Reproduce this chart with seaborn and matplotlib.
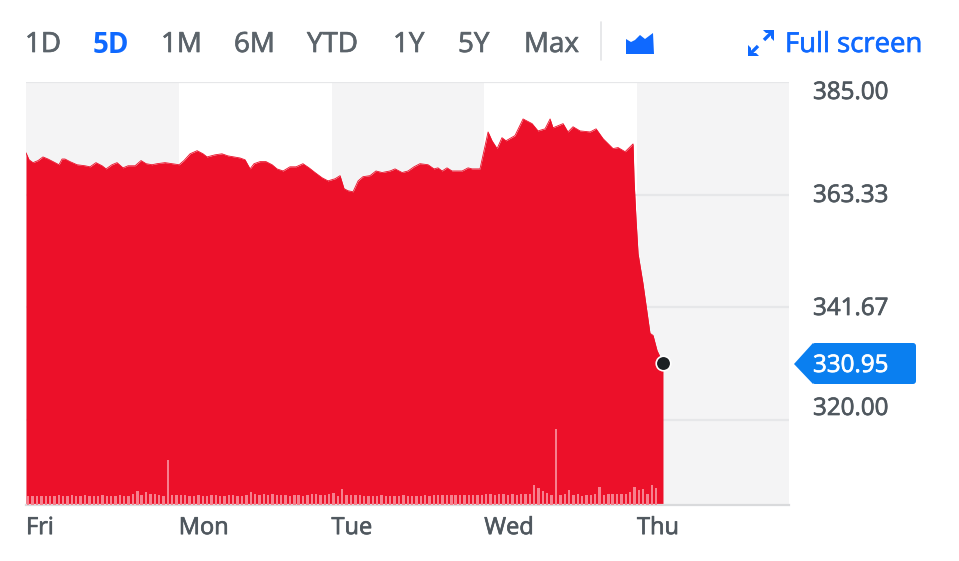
import matplotlib
matplotlib.use('Agg')
import matplotlib.pyplot as plt
import matplotlib.patheffects as pe
from matplotlib.patches import Polygon, FancyBboxPatch
import numpy as np
import seaborn as sns

days = ['Fri', 'Mon', 'Tue', 'Wed', 'Thu']
price_ticks = [320.00, 341.67, 363.33, 385.00]
price_labels = ['385.00', '363.33', '341.67', '320.00']
ranges = ['1D', '5D', '1M', '6M', 'YTD', '1Y', '5Y', 'Max']
last_price = 330.95

# time is counted in trading sessions since Friday's open
price_time = [
    0, .020, .046, .079, .111, .144, .177, .216, .236, .255, .288, .334, .386, .419, .458, .498,
    .524, .563, .596, .635, .668, .714, .753, .786, .825, .858, .910, .956, 1.002, 1.034, 1.074,
    1.120, 1.159, 1.185, 1.237, 1.283, 1.322, 1.401, 1.434, 1.467, 1.493, 1.532, 1.571, 1.611,
    1.643, 1.683, 1.728, 1.768, 1.813, 1.853, 1.892, 1.938, 1.977, 2.023, 2.056, 2.082, 2.108,
    2.141, 2.174, 2.206, 2.252, 2.291, 2.331, 2.383, 2.416, 2.462, 2.501, 2.540, 2.579, 2.632,
    2.671, 2.697, 2.724, 2.756, 2.789, 2.855, 2.894, 2.920, 2.972, 3.005, 3.025, 3.051, 3.084,
    3.116, 3.142, 3.201, 3.254, 3.313, 3.352, 3.398, 3.431, 3.450, 3.516, 3.548, 3.581, 3.627,
    3.693, 3.732, 3.778, 3.843, 3.876, 3.922, 3.974, 3.981, 3.994, 4.007, 4.039, 4.085, 4.105,
    4.131, 4.170]
price = [
    371.4, 370.05, 369.5, 369.9, 370.6, 370.2, 369.7, 369.1, 370.2, 370.2, 369.7, 369.1, 368.9,
    368.7, 369.5, 368.9, 368.3, 369.1, 369.5, 368.5, 368.9, 368.9, 369.9, 369.3, 369.1, 369.3,
    369.5, 369.3, 369.1, 369.9, 371.2, 371.8, 371.2, 370.6, 371.0, 371.2, 370.8, 370.4, 370.05,
    368.3, 369.3, 369.7, 369.7, 369.1, 368.3, 367.9, 368.7, 368.7, 369.3, 368.5, 367.6, 366.6,
    366.0, 366.4, 367.0, 364.5, 364.1, 363.9, 366.0, 366.8, 367.0, 367.9, 367.6, 367.9, 368.3,
    367.6, 367.9, 368.7, 369.3, 369.1, 368.3, 368.5, 367.9, 368.5, 367.9, 367.9, 368.5, 368.3,
    368.3, 372.7, 375.4, 373.7, 372.2, 374.3, 373.7, 374.7, 377.9, 377.0, 375.6, 376.0, 377.9,
    376.2, 377.0, 375.4, 376.4, 375.6, 375.4, 376.0, 374.1, 372.2, 372.4, 371.6, 373.1, 366.0,
    358.4, 352.0, 346.3, 336.7, 336.3, 333.4, 330.95]
volume = [
    9, 9, 9, 9, 9, 9, 9, 10, 9, 9,
    10, 9, 9, 10, 9, 9, 9, 10, 9, 9,
    9, 10, 9, 9, 11, 14, 10, 13, 11, 11,
    10, 9, 45, 10, 10, 10, 10, 9, 9, 10,
    9, 9, 10, 10, 9, 9, 10, 10, 9, 9,
    10, 13, 11, 10, 11, 10, 11, 10, 10, 10,
    9, 10, 10, 9, 10, 11, 11, 10, 10, 11,
    12, 9, 16, 10, 10, 10, 10, 9, 9, 9,
    9, 10, 9, 9, 9, 9, 10, 9, 9, 9,
    9, 10, 9, 10, 10, 10, 10, 10, 10, 10,
    10, 10, 10, 10, 10, 11, 11, 10, 11, 11,
    10, 11, 10, 11, 11, 11, 20, 17, 14, 12,
    10, 76, 10, 11, 15, 10, 11, 9, 10, 10,
    11, 18, 10, 11, 11, 11, 11, 11, 13, 18,
    15, 16, 11, 20, 17]
volume_time = np.round(0.015 + 0.02855 * np.arange(len(volume)), 4)

RED = '#ec1029'
GREY_BAND = '#f4f4f5'
GRID = '#e6e7e9'
TEXT = '#4f575e'
BLUE = '#0f69ff'

sns.set_theme(style='white')
plt.rcParams['font.family'] = ['Open Sans', 'DejaVu Sans']

# the reference text is a little heavier than Open Sans regular
def heavier(color):
    return [pe.withStroke(linewidth=0.5, foreground=color)]

fig = plt.figure(figsize=(9.59, 5.61), dpi=100)
ax = fig.add_axes([26 / 959, (561 - 505) / 561, 763 / 959, 423 / 561])

for start in (0, 2, 4):
    ax.axvspan(start, start + 1, color=GREY_BAND, lw=0, zorder=0)
ax.set_yticks(price_ticks)
ax.set_yticklabels([])
ax.grid(axis='y', color=GRID, lw=1.6, zorder=1)
ax.set_axisbelow(True)

ax.fill_between(price_time, price, 300, color=RED, lw=0, zorder=2)
sns.lineplot(x=price_time, y=price, color=RED, lw=0.6, sort=False, estimator=None, ax=ax, zorder=3)
sns.scatterplot(x=[price_time[-1]], y=[last_price], s=110, color='#1c2024', edgecolor='white',
                linewidth=1.2, zorder=5, clip_on=False, ax=ax)

ax.set_xlim(0, 4.995)
ax.set_ylim(303.7, 385)
ax.set_xticks(range(5))
ax.set_xticklabels(days, ha='left', fontsize=17, color=TEXT,
                   path_effects=heavier(TEXT))
ax.tick_params(axis='x', length=0, pad=8)
ax.tick_params(axis='y', length=0)
ax.set_xlabel('')
ax.set_ylabel('')
sns.despine(ax=ax, top=True, left=True)
for side in ('right', 'bottom'):
    ax.spines[side].set_color('#d9dadc')
    ax.spines[side].set_linewidth(1.6)

# volume on its own hidden axis along the bottom
vol_ax = ax.twinx()
sns.barplot(x=volume_time, y=volume, native_scale=True, color='#f6808e', width=0.55, saturation=1,
            linewidth=0, ax=vol_ax)
vol_ax.set_xlim(0, 4.995)
vol_ax.set_ylim(0, 423)
vol_ax.axis('off')

# page furniture, placed in reference pixels
ui = fig.add_axes([0, 0, 1, 1], facecolor='none')
ui.set_xlim(0, 959)
ui.set_ylim(561, 0)
ui.axis('off')

range_x = [25, 93, 161, 234, 307, 393, 458, 524]
for label, x in zip(ranges, range_x):
    on = label == '5D'
    color = BLUE if on else '#5b636a'
    ui.text(x, 45, label, fontsize=20, va='center', color=color,
            fontweight='bold' if on else 'normal', path_effects=None if on else heavier(color))
ui.plot([601, 601], [22, 60], color='#e3e4e6', lw=1.2)
ui.add_patch(Polygon([(626, 54), (626, 39), (631, 42), (635, 40), (640, 35), (645, 39), (653, 33), (654, 54)],
                     color=BLUE, lw=0))
ui.text(785, 45, 'Full screen', fontsize=19.8, va='center', color=BLUE, path_effects=heavier(BLUE))

# expand arrows
ui.plot([750, 758], [54, 46], color=BLUE, lw=2.4, solid_capstyle='butt')
ui.plot([764, 772], [40, 32], color=BLUE, lw=2.4, solid_capstyle='butt')
ui.add_patch(Polygon([(748, 45), (748, 56), (759, 56), (756, 53), (751, 53), (751, 48)], color=BLUE, lw=0))
ui.add_patch(Polygon([(763, 30), (774, 30), (774, 41), (771, 38), (771, 33), (766, 33)], color=BLUE, lw=0))

for label, y in zip(price_labels, [93, 196, 309, 409]):
    ui.text(813, y, label, fontsize=17.4, va='center', color=TEXT, path_effects=heavier(TEXT))

ui.add_patch(FancyBboxPatch((812, 343), 104, 41, boxstyle='round,pad=0,rounding_size=3',
                            color='#0a7ff0', lw=0))
ui.add_patch(Polygon([(794, 364), (813, 343), (813, 384)], color='#0a7ff0', lw=0))
ui.text(813, 366, f'{last_price:.2f}', fontsize=17.4, va='center', color='white',
        path_effects=heavier('white'))

fig.savefig('out.png', dpi=100)
